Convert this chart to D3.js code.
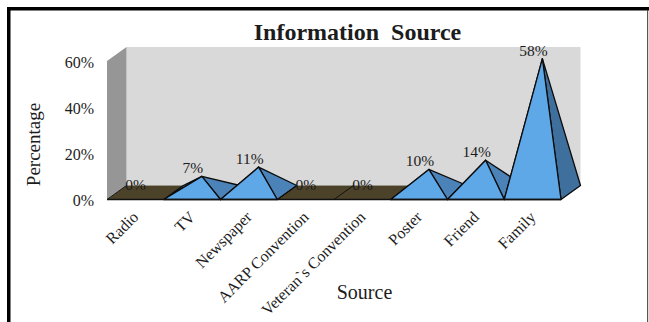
<!DOCTYPE html>
<html>
<head>
<meta charset="utf-8">
<script src="https://cdn.jsdelivr.net/npm/d3@7/dist/d3.min.js"></script>
<style>
  html, body { margin: 0; padding: 0; background: #fff; }
  svg { display: block; }
  text { font-family: "Liberation Serif", "Times New Roman", serif; fill: #1c1c1c; white-space: pre; }
  .tick line, .domain { display: none; }
</style>
</head>
<body>
<svg id="chart" width="649" height="322"></svg>
<script>
// Survey results: share of respondents by information source
const categories = ["Radio", "TV", "Newspaper", "AARP Convention", "Veteran`s Convention", "Poster", "Friend", "Family"];
const percentages = [0, 7, 11, 0, 0, 10, 14, 58];
const yTicks = [0, 20, 40, 60];

const svg = d3.select("#chart");

// Outer frame
svg.append("rect").attr("x", 7).attr("y", 7).attr("width", 642).attr("height", 3.5).attr("fill", "#000");
svg.append("rect").attr("x", 7).attr("y", 7).attr("width", 3.5).attr("height", 315).attr("fill", "#000");
svg.append("rect").attr("x", 647).attr("y", 10).attr("width", 1.2).attr("height", 312).attr("fill", "#555");

// Front plane scales plus the oblique depth offset of the 3D box
const x = d3.scaleBand().domain(categories).range([107, 561]);
const y = d3.scaleLinear().domain([0, 60]).range([199.5, 61]);
const depth = { dx: 19.5, dy: -14 };

const pt = (px, py) => px + "," + py;
const y0 = y(0);
const yTop = y(60);
const xL = x.range()[0];
const xR = x.range()[1];

// Back wall, side wall and floor
const box = svg.append("g");
box.append("polygon")
  .attr("points", [pt(xL + depth.dx, yTop + depth.dy), pt(xR + depth.dx, yTop + depth.dy), pt(xR + depth.dx, y0 + depth.dy), pt(xL + depth.dx, y0 + depth.dy)].join(" "))
  .attr("fill", "#d9d9d9");
box.append("polygon")
  .attr("points", [pt(xL, yTop), pt(xL + depth.dx, yTop + depth.dy), pt(xL + depth.dx, y0 + depth.dy), pt(xL, y0)].join(" "))
  .attr("fill", "#969696");
box.append("polygon")
  .attr("points", [pt(xL, y0), pt(xR, y0), pt(xR + depth.dx, y0 + depth.dy), pt(xL + depth.dx, y0 + depth.dy)].join(" "))
  .attr("fill", "#4b4229");

// One pyramid per category, apex over the centre of its floor square
const edge = { stroke: "#0c0c0c", width: 1.3 };
const pyramids = svg.append("g").selectAll("g")
  .data(categories.map((c, i) => ({ c, v: percentages[i] })))
  .join("g");

const apex = d => [x(d.c) + x.bandwidth() / 2 + depth.dx / 2, y(d.v) + depth.dy / 2];

pyramids.each(function (d) {
  const g = d3.select(this);
  const l = x(d.c), r = l + x.bandwidth();
  const a = apex(d);
  if (d.v === 0) {
    g.append("line")
      .attr("x1", l).attr("y1", y0)
      .attr("x2", l + depth.dx).attr("y2", y0 + depth.dy)
      .attr("stroke", edge.stroke).attr("stroke-width", 0.9);
    return;
  }
  const shade = d.v > 30 ? "#3f6f9c" : "#4b82b8";
  const face = (pts, fill) => g.append("polygon")
    .attr("points", pts.map(p => pt(p[0], p[1])).join(" "))
    .attr("fill", fill)
    .attr("stroke", edge.stroke)
    .attr("stroke-width", edge.width)
    .attr("stroke-linejoin", "round");
  face([[l, y0], [l + depth.dx, y0 + depth.dy], a], "#3f6f9c");
  face([[r, y0], [r + depth.dx, y0 + depth.dy], a], shade);
  face([[l, y0], [r, y0], a], "#5fa8e8");
});

// Front baseline
svg.append("line")
  .attr("x1", xL).attr("x2", xR).attr("y1", y0).attr("y2", y0)
  .attr("stroke", "#111").attr("stroke-width", 1.4);

// Value labels above each apex
svg.append("g").selectAll("text")
  .data(categories.map((c, i) => ({ c, v: percentages[i] })))
  .join("text")
  .attr("x", d => apex(d)[0] - 9 + (d.v === 0 ? -0.5 : 0))
  .attr("y", d => d.v === 0 ? y0 + depth.dy + 4.5 : apex(d)[1] - 3)
  .attr("text-anchor", "middle")
  .attr("font-size", 15.5)
  .text(d => d.v + "%");

// Value axis
svg.append("g")
  .attr("transform", "translate(99,1)")
  .call(d3.axisLeft(y).tickValues(yTicks).tickSize(0).tickPadding(5).tickFormat(d => d + "%"))
  .call(g => g.selectAll("text").attr("font-size", 16).attr("font-family", null));

// Category labels, rotated 45 degrees and right-aligned under each band
svg.append("g").selectAll("text")
  .data(categories)
  .join("text")
  .attr("text-anchor", "end")
  .attr("font-size", 16)
  .attr("transform", d => "translate(" + (x(d) + x.bandwidth() / 2 + 4) + ",218) rotate(-45)")
  .text(d => d);

// Titles
svg.append("text")
  .attr("x", 357.5).attr("y", 40)
  .attr("text-anchor", "middle")
  .attr("font-size", 24).attr("font-weight", "bold")
  .attr("fill", "#000")
  .text("Information  Source");
svg.append("text")
  .attr("x", 364.5).attr("y", 299)
  .attr("text-anchor", "middle")
  .attr("font-size", 20)
  .text("Source");
svg.append("text")
  .attr("transform", "translate(40,144.5) rotate(-90)")
  .attr("text-anchor", "middle")
  .attr("font-size", 19)
  .text("Percentage");
</script>
</body>
</html>
